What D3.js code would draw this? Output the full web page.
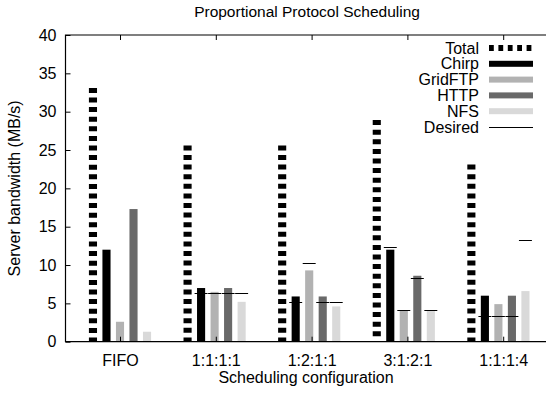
<!DOCTYPE html>
<html>
<head>
<meta charset="utf-8">
<script src="https://cdn.jsdelivr.net/npm/d3@7"></script>
<style>
  body { margin: 0; background: #fff; }
  text { font-family: "Liberation Sans", Arial, sans-serif; fill: #000; }
</style>
</head>
<body>
<div id="chart"></div>
<script>
// data
const categories = ["FIFO", "1:1:1:1", "1:2:1:1", "3:1:2:1", "1:1:1:4"];
const series = ["Total", "Chirp", "GridFTP", "HTTP", "NFS"];
const total   = [33.1, 25.6, 25.6, 28.9, 23.1];
const chirp   = [12.0, 7.0, 5.9, 12.0, 6.0];
const gridftp = [2.6, 6.5, 9.3, 4.1, 4.9];
const http    = [17.3, 7.0, 5.9, 8.6, 6.0];
const nfs     = [1.3, 5.2, 4.6, 4.0, 6.6];
// desired share per protocol (none for FIFO)
const desired = [
  null,
  [6.4, 6.4, 6.4, 6.4],
  [5.12, 10.24, 5.12, 5.12],
  [12.4, 4.13, 8.27, 4.13],
  [3.3, 3.3, 3.3, 13.2]
];
const yTicks = [0, 5, 10, 15, 20, 25, 30, 35, 40];

const colors = {
  Total: "#000",
  Chirp: "#000",
  GridFTP: "#b2b2b2",
  HTTP: "#696969",
  NFS: "#d9d9d9"
};

const width = 546, height = 394;
const margin = { top: 35, left: 65.5, bottom: 341.7 };
const fs = "16px";

const svg = d3.select("#chart")
  .append("svg")
  .attr("width", width)
  .attr("height", height);

const x0 = d3.scaleBand()
  .domain(categories)
  .range([72.7, 545.7])
  .padding(0);

// 5 bars in 7 slots (gap of 2), box width 0.6
const x1 = d3.scaleBand()
  .domain(series)
  .range([x0.bandwidth() / 7, x0.bandwidth() * 6 / 7])
  .paddingInner(0.4)
  .paddingOuter(0.2);

const xTick = d3.scalePoint()
  .domain(categories)
  .range([120, 503.2]);

const y = d3.scaleLinear()
  .domain([0, 40])
  .range([margin.bottom, margin.top]);

const rows = categories.map((c, i) => ({
  cat: c,
  vals: [total[i], chirp[i], gridftp[i], http[i], nfs[i]],
  desired: desired[i]
}));

const groups = svg.selectAll("g.grp")
  .data(rows)
  .enter()
  .append("g")
  .attr("class", "grp")
  .attr("transform", d => `translate(${x0(d.cat)},0)`);

// Total: thick dashed impulse
groups.append("line")
  .attr("x1", x1("Total") + x1.bandwidth() / 2)
  .attr("x2", x1("Total") + x1.bandwidth() / 2)
  .attr("y1", d => y(d.vals[0]))
  .attr("y2", y(0))
  .attr("stroke", "#000")
  .attr("stroke-width", x1.bandwidth())
  .attr("stroke-dasharray", "5,4.6");

// protocol bars
groups.selectAll("rect")
  .data(d => series.slice(1).map((s, j) => ({ s, v: d.vals[j + 1] })))
  .enter()
  .append("rect")
  .attr("x", d => x1(d.s))
  .attr("y", d => y(d.v))
  .attr("width", x1.bandwidth())
  .attr("height", d => y(0) - y(d.v))
  .attr("fill", d => colors[d.s]);

// desired marks
const step = x1.step();
groups.selectAll("line.des")
  .data(d => d.desired ? series.slice(1).map((s, j) => ({ s, v: d.desired[j] })) : [])
  .enter()
  .append("line")
  .attr("class", "des")
  .attr("x1", d => x1(d.s) + x1.bandwidth() / 2 - step * 0.48)
  .attr("x2", d => x1(d.s) + x1.bandwidth() / 2 + step * 0.48)
  .attr("y1", d => Math.round(y(d.v)) + 0.5)
  .attr("y2", d => Math.round(y(d.v)) + 0.5)
  .attr("stroke", "#000")
  .attr("stroke-width", 1);

// frame
svg.append("path")
  .attr("d", `M${width},${margin.top}H${margin.left}V${margin.bottom}H${width}`)
  .attr("fill", "none")
  .attr("stroke", "#000")
  .attr("stroke-width", 1.2);

// y axis
const yAxis = svg.append("g")
  .attr("transform", `translate(${margin.left},0)`)
  .call(d3.axisLeft(y).tickValues(yTicks).tickSize(-5).tickPadding(9));
yAxis.select(".domain").remove();
yAxis.selectAll("text").style("font-size", fs);

// x axis (bottom, ticks inward) + mirrored top ticks
const xAxis = svg.append("g")
  .attr("transform", `translate(0,${margin.bottom})`)
  .call(d3.axisBottom(xTick).tickSize(-5).tickPadding(13));
xAxis.select(".domain").remove();
xAxis.selectAll("text").style("font-size", fs);

const xTop = svg.append("g")
  .attr("transform", `translate(0,${margin.top})`)
  .call(d3.axisTop(xTick).tickSize(-5).tickFormat(""));
xTop.select(".domain").remove();

svg.selectAll(".tick line").attr("stroke", "#000");

// titles
svg.append("text")
  .attr("x", 307)
  .attr("y", 17)
  .attr("text-anchor", "middle")
  .style("font-size", "15.5px")
  .text("Proportional Protocol Scheduling");

svg.append("text")
  .attr("x", 306)
  .attr("y", 383)
  .attr("text-anchor", "middle")
  .style("font-size", fs)
  .text("Scheduling configuration");

svg.append("text")
  .attr("transform", `translate(20,${(margin.top + margin.bottom) / 2}) rotate(-90)`)
  .attr("text-anchor", "middle")
  .style("font-size", fs)
  .text("Server bandwidth (MB/s)");

// legend
const legendNames = series.concat(["Desired"]);
const leg = svg.append("g");
const legItems = leg.selectAll("g")
  .data(legendNames)
  .enter()
  .append("g")
  .attr("transform", (d, i) => `translate(0,${48 + i * 15.8})`);

legItems.append("text")
  .attr("x", 479)
  .attr("y", 5.5)
  .attr("text-anchor", "end")
  .style("font-size", fs)
  .text(d => d);

legItems.each(function (d) {
  const g = d3.select(this);
  if (d === "Total") {
    g.append("line")
      .attr("x1", 489).attr("x2", 533)
      .attr("y1", 0).attr("y2", 0)
      .attr("stroke", "#000")
      .attr("stroke-width", 6)
      .attr("stroke-dasharray", "4.8,4.6");
  } else if (d === "Desired") {
    g.append("line")
      .attr("x1", 489).attr("x2", 533)
      .attr("y1", 0.5).attr("y2", 0.5)
      .attr("stroke", "#000")
      .attr("stroke-width", 1);
  } else {
    g.append("rect")
      .attr("x", 489).attr("y", -3)
      .attr("width", 44).attr("height", 6)
      .attr("fill", colors[d]);
  }
});
</script>
</body>
</html>
